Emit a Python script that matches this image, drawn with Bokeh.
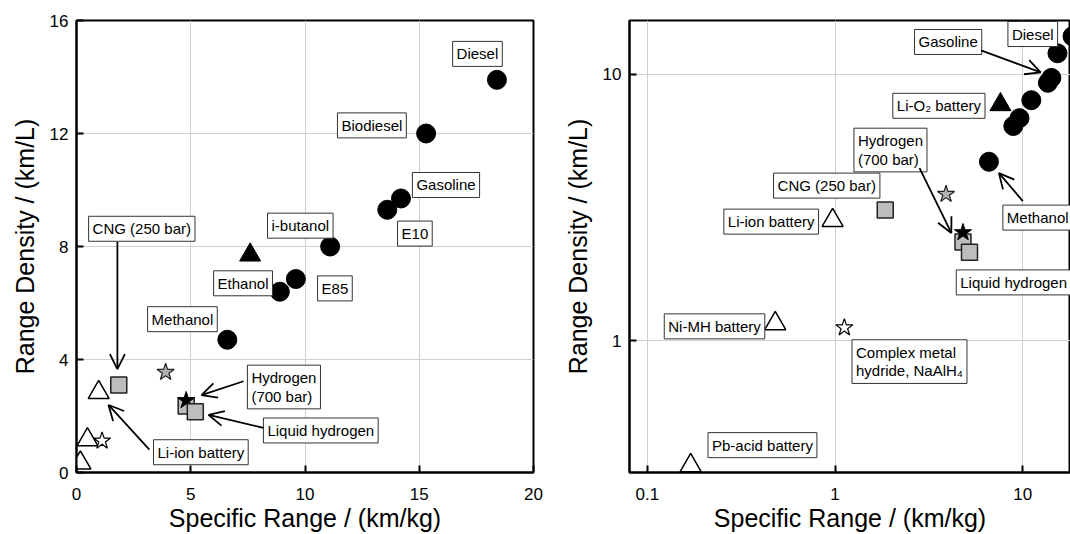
from bokeh.plotting import figure
from bokeh.models import Label, Arrow, OpenHead, FixedTicker
from bokeh.layouts import row
from bokeh.embed import file_html
from bokeh.resources import INLINE

# ---------------- data ----------------
fuel_names = ["Diesel", "Biodiesel", "Gasoline", "E10", "i-butanol", "E85", "Ethanol", "Methanol"]
fuel_sr = [18.4, 15.3, 14.2, 13.6, 11.1, 9.6, 8.9, 6.6]
fuel_rd = [13.9, 12.0, 9.7, 9.3, 8.0, 6.85, 6.4, 4.7]

lio2_sr = [7.6]
lio2_rd = [7.7]

battery_names = ["Li-ion battery", "Ni-MH battery", "Pb-acid battery"]
battery_sr = [0.97, 0.48, 0.17]
battery_rd = [2.83, 1.16, 0.34]

tank_names = ["CNG (250 bar)", "Hydrogen tank", "Liquid hydrogen"]
tank_sr = [1.85, 4.8, 5.2]
tank_rd = [3.1, 2.35, 2.15]

h2_sr = [4.8]
h2_rd = [2.55]

grey_star_sr = [3.9]
grey_star_rd = [3.55]

hydride_sr = [1.12]
hydride_rd = [1.12]

FONT = "Liberation Sans"

x_title = "Specific Range / (km/kg)"
y_title = "Range Density / (km/L)"


def style(p):
    p.outline_line_color = "black"
    p.outline_line_width = 2
    p.background_fill_color = "white"
    p.border_fill_color = "white"
    for ax in p.axis:
        ax.axis_line_width = 2
        ax.axis_line_color = "black"
        ax.major_tick_in = 7
        ax.major_tick_out = 0
        ax.major_tick_line_width = 2
        ax.major_tick_line_color = "black"
        ax.minor_tick_line_color = None
        ax.major_label_text_font = FONT
        ax.major_label_text_font_size = "17px"
        ax.major_label_text_color = "black"
        ax.axis_label_text_font = FONT
        ax.axis_label_text_font_size = "25px"
        ax.axis_label_text_font_style = "normal"
        ax.axis_label_text_color = "black"
    for ax in p.xaxis:
        ax.major_label_standoff = 15
        ax.axis_label_standoff = 1
    for ax in p.yaxis:
        ax.major_label_standoff = 8
        ax.axis_label_standoff = 8
    for g in p.grid:
        g.grid_line_color = "#cfcfcf"
        g.grid_line_width = 1


def add_points(p):
    p.scatter(fuel_sr, fuel_rd, marker="circle", size=19, fill_color="black", line_color="black")
    p.scatter(lio2_sr, lio2_rd, marker="triangle", size=21, fill_color="black", line_color="black")
    p.scatter(battery_sr, battery_rd, marker="triangle", size=21, fill_color="white",
              line_color="black", line_width=1.5)
    p.scatter(hydride_sr, hydride_rd, marker="star", size=18, fill_color="white",
              line_color="black", line_width=1.2)
    p.scatter(tank_sr[:2], tank_rd[:2], marker="square", size=16, fill_color="#bdbdbd",
              line_color="#222222", line_width=1.5)
    p.scatter(h2_sr, h2_rd, marker="star", size=18, fill_color="black", line_color="black")
    p.scatter(tank_sr[2:], tank_rd[2:], marker="square", size=16, fill_color="#bdbdbd",
              line_color="#222222", line_width=1.5)
    p.scatter(grey_star_sr, grey_star_rd, marker="star", size=18, fill_color="#b0b0b0",
              line_color="#222222", line_width=1.2)


def add_label(p, x, y, text):
    p.add_layout(Label(x=x, y=y, text=text, text_font=FONT, text_font_size="15px",
                       text_color="black", text_align="left", text_baseline="top",
                       text_line_height=1.1,
                       background_fill_color="white", border_line_color="#333333",
                       border_line_width=1, padding=4))


def add_arrow(p, xs, ys, xe, ye):
    p.add_layout(Arrow(end=OpenHead(size=15, line_width=1.8, line_color="black"),
                       x_start=xs, y_start=ys, x_end=xe, y_end=ye,
                       line_width=1.8, line_color="black"))


# ---------------- left (linear) ----------------
p1 = figure(width=560, height=534, x_range=(0, 20), y_range=(0, 16),
            output_backend="svg", toolbar_location=None,
            min_border_left=76, min_border_right=27, min_border_top=20, min_border_bottom=59,
            x_axis_label=x_title, y_axis_label=y_title)
p1.xaxis.ticker = FixedTicker(ticks=[0, 5, 10, 15, 20], minor_ticks=[])
p1.yaxis.ticker = FixedTicker(ticks=[0, 4, 8, 12, 16], minor_ticks=[])
style(p1)
add_points(p1)

left_labels = [
    (16.46, 15.26, "Diesel"),
    (11.42, 12.73, "Biodiesel"),
    (14.70, 10.62, "Gasoline"),
    (14.05, 8.90, "E10"),
    (8.36, 9.18, "i-butanol"),
    (6.00, 7.14, "Ethanol"),
    (10.55, 6.96, "E85"),
    (3.11, 5.87, "Methanol"),
    (0.53, 9.07, "CNG (250 bar)"),
    (7.48, 3.80, "Hydrogen\n(700 bar)"),
    (8.18, 1.93, "Liquid hydrogen"),
    (3.37, 1.16, "Li-ion battery"),
]
for x, y, t in left_labels:
    add_label(p1, x, y, t)

add_arrow(p1, 1.79, 8.16, 1.79, 3.66)
add_arrow(p1, 7.31, 3.23, 5.47, 2.74)
add_arrow(p1, 8.18, 1.58, 5.78, 2.04)
add_arrow(p1, 3.19, 0.81, 1.40, 2.39)

# ---------------- right (log-log) ----------------
p2 = figure(width=510, height=534, x_axis_type="log", y_axis_type="log",
            x_range=(0.0803, 17.95), y_range=(0.3203, 15.93),
            output_backend="svg", toolbar_location=None,
            min_border_left=66, min_border_right=0, min_border_top=20, min_border_bottom=61,
            x_axis_label=x_title, y_axis_label=y_title)
p2.xaxis.ticker = FixedTicker(ticks=[0.1, 1, 10], minor_ticks=[])
p2.yaxis.ticker = FixedTicker(ticks=[1, 10], minor_ticks=[])
p2.xaxis.major_label_overrides = {0.1: "0.1", 1: "1", 10: "10"}
p2.yaxis.major_label_overrides = {1: "1", 10: "10"}
style(p2)
add_points(p2)

right_labels = [
    (8.33, 15.79, "Diesel"),
    (2.65, 14.74, "Gasoline"),
    (2.03, 8.49, "Li-O\u2082 battery"),
    (1.26, 6.28, "Hydrogen\n(700 bar)"),
    (0.470, 4.26, "CNG (250 bar)"),
    (0.2555, 3.12, "Li-ion battery"),
    (7.83, 3.23, "Methanol"),
    (4.42, 1.845, "Liquid hydrogen"),
    (0.1230, 1.262, "Ni-MH battery"),
    (0.2104, 0.4521, "Pb-acid battery"),
    (1.230, 1.009, "Complex metal\nhydride, NaAlH\u2084"),
]
for x, y, t in right_labels:
    add_label(p2, x, y, t)

add_arrow(p2, 5.99, 12.30, 12.45, 10.17)
add_arrow(p2, 2.818, 4.446, 4.16, 2.54)
add_arrow(p2, 10.0, 3.345, 7.46, 4.26)

layout = row(p1, p2)

open("out.html", "w").write(file_html(layout, INLINE))
